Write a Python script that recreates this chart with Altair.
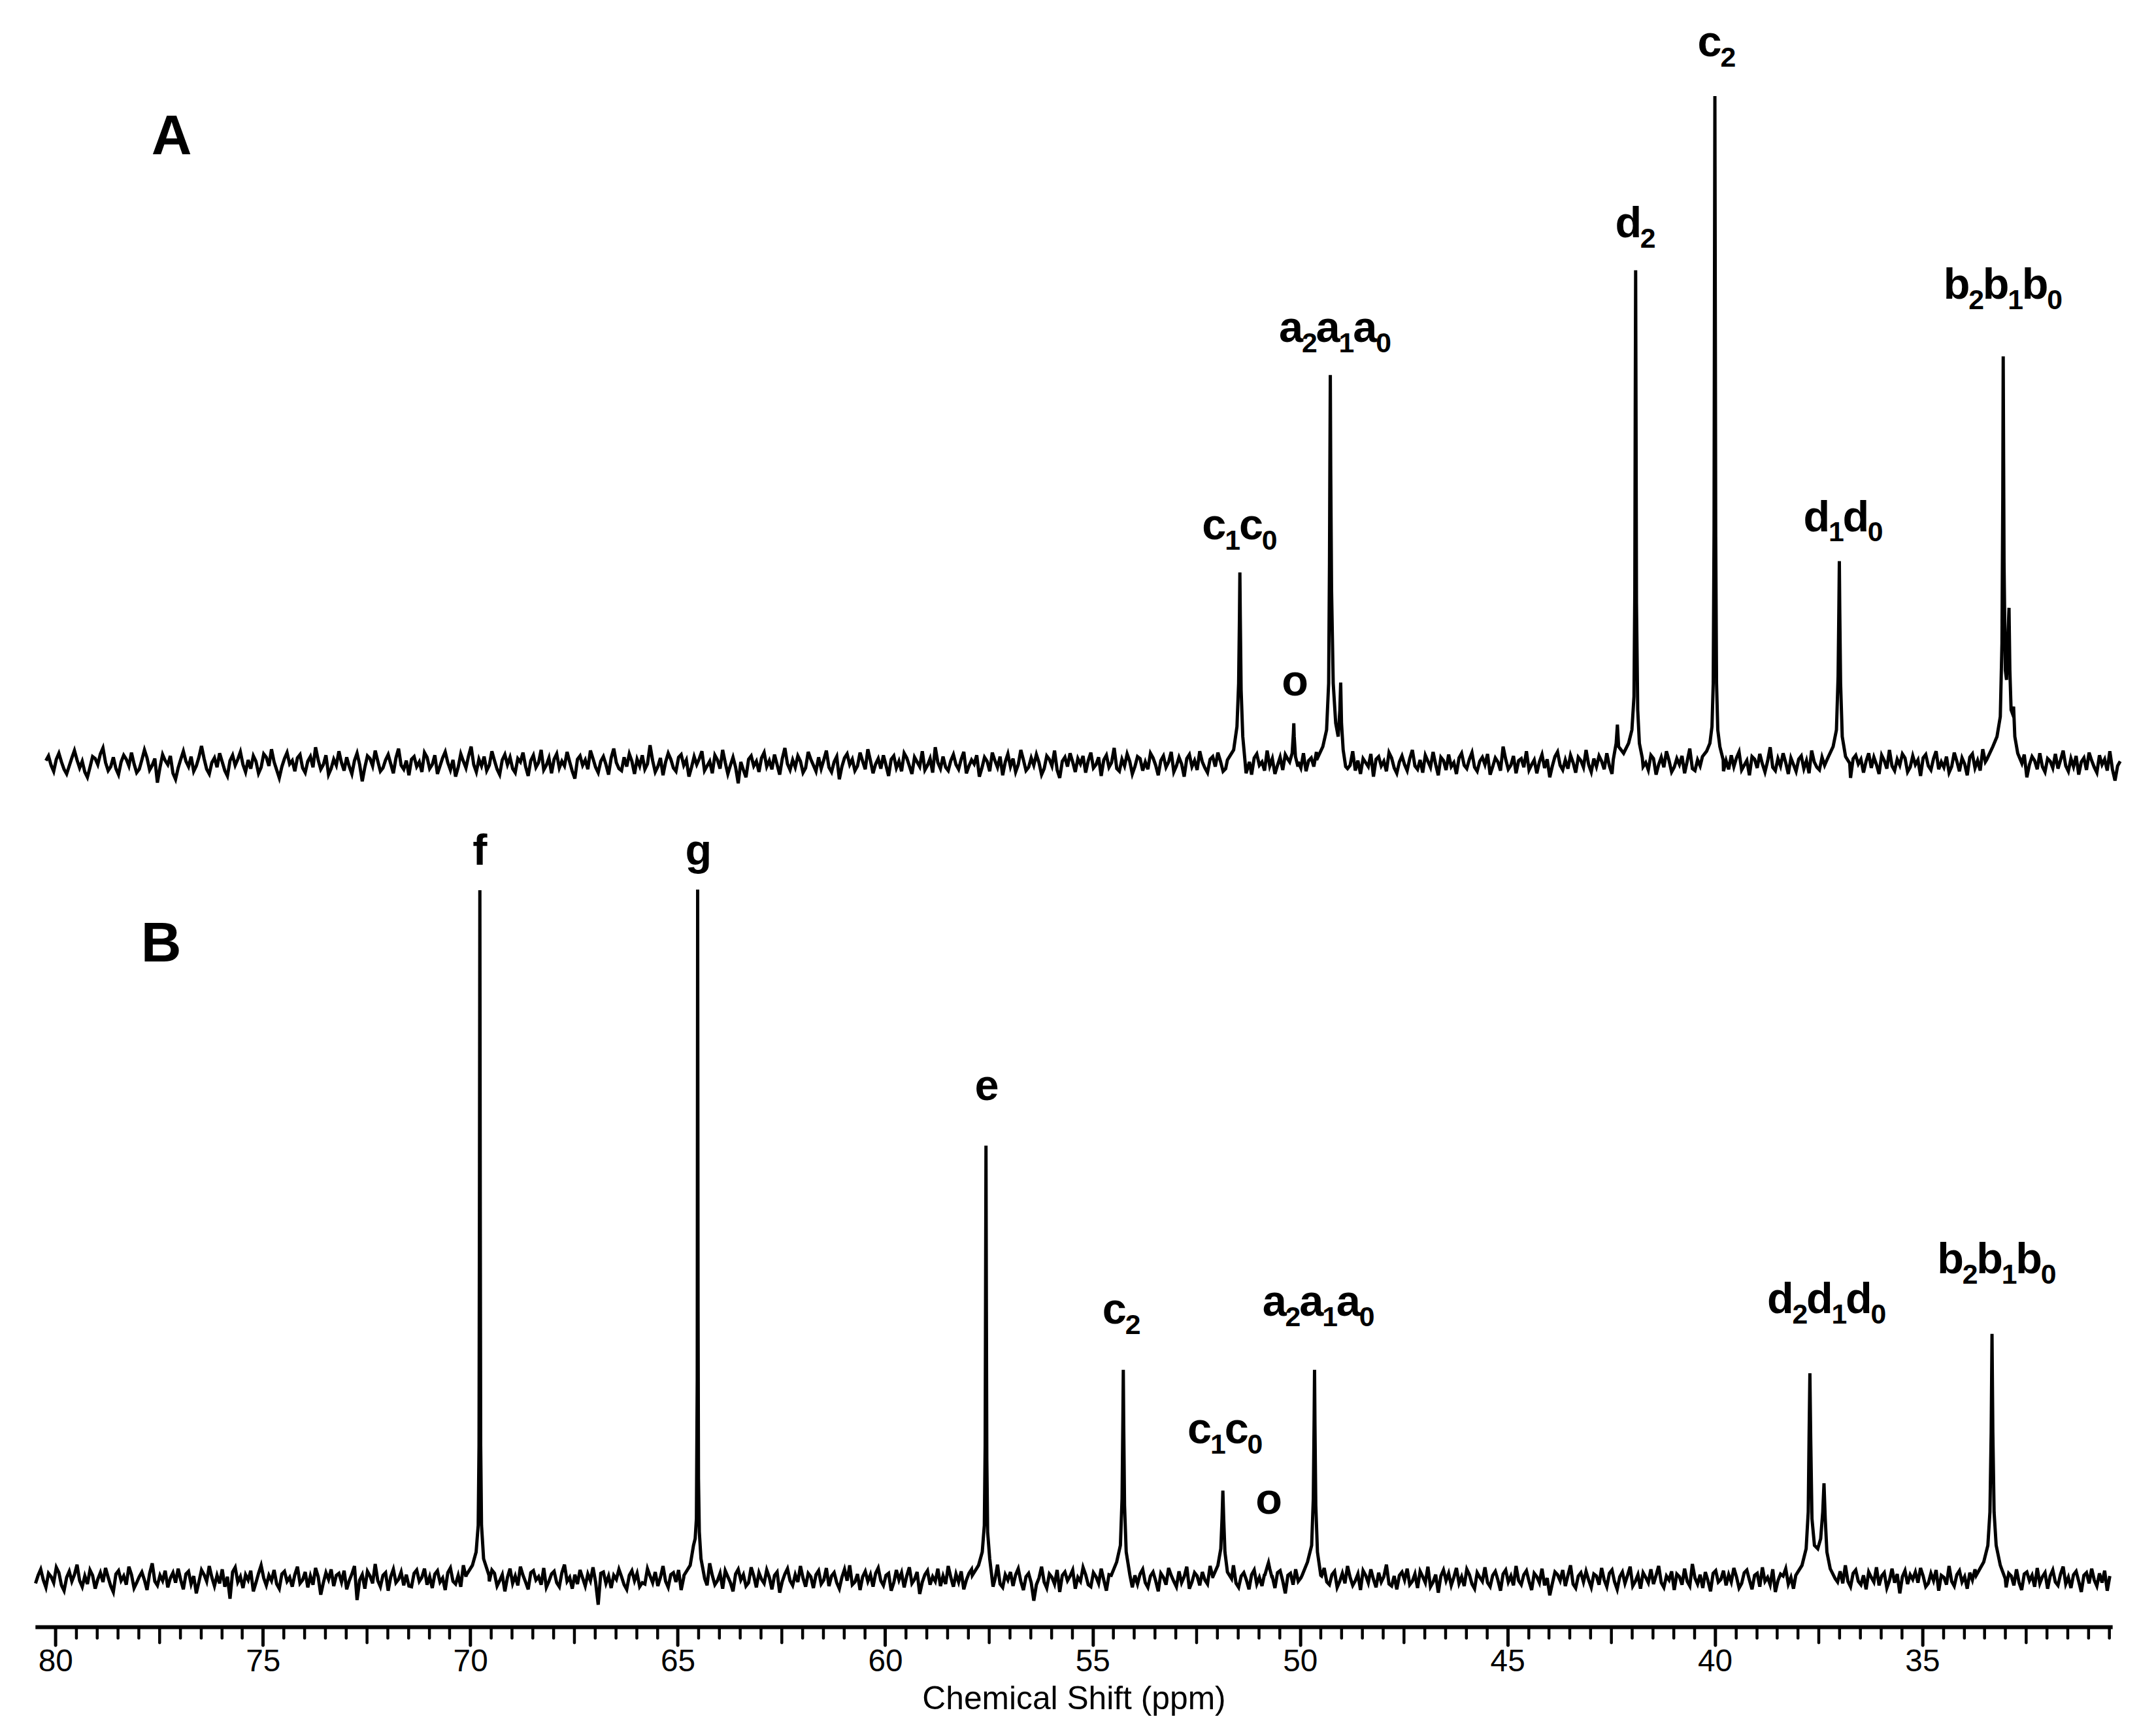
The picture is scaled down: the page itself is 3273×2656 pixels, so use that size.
import altair as alt
import numpy as np
import pandas as pd

# ---------------- data ----------------
# baseline noise samples (intensity, a.u.) on a 0.0625 ppm grid
GRID_STEP = 0.0625
GRID_START_A = 80.23
GRID_START_B = 80.48

NOISE_A = [
 0.4,1.1,-0.3,-1.2,0.6,1.5,0.2,-0.9,-1.6,-0.4,0.8,1.9,0.5,-0.7,0.3,-1.3,-2.1,-0.6,1.0,0.7,-0.2,1.4,2.3,0.1,-1.1,
 -0.5,0.9,-0.8,-1.7,0.2,1.2,0.6,-0.4,1.6,-0.1,-1.4,-0.9,0.5,2.0,0.8,-1.0,-0.3,0.7,-2.9,-0.6,1.3,0.4,-0.2,1.1,-1.5,
 -2.4,-0.7,0.6,1.8,0.3,-0.5,1.0,-1.2,-0.4,0.9,2.6,0.7,-0.9,-1.6,0.1,0.8,-0.6,1.5,0.2,-1.1,-1.9,0.4,1.2,-0.3,0.6,
 1.7,-0.2,-1.3,0.5,-0.8,1.1,0.3,-1.5,-0.6,1.4,0.9,-0.4,2.1,0.2,-1.0,-2.2,-0.5,0.7,1.6,-0.1,0.4,-1.2,0.8,1.3,-0.7,
 -1.4,0.3,1.0,-0.6,2.4,0.5,-0.9,-0.2,1.2,-1.7,-0.8,0.6,-0.3,1.8,0.1,-1.1,0.9,-0.5,-1.6,0.4,1.5,-0.2,-2.7,-0.6,1.1,
 0.7,-0.4,1.9,0.3,-1.2,-0.7,0.5,1.3,-0.1,-1.5,0.8,2.2,-0.3,-0.9,0.4,-1.8,0.6,1.0,-0.5,0.2,-1.3,1.6,0.9,-0.8,-0.2,
 1.2,-1.6,-0.4,0.8,1.7,0.1,-1.0,0.5,-2.0,-0.6,1.4,0.3,-0.7,1.1,2.5,-0.2,-1.3,0.6,-0.4,1.0,-1.1,-0.3,1.8,0.4,-0.9,
 -1.7,0.5,1.3,-0.2,0.9,-0.8,-1.4,0.7,0.2,1.6,-0.5,-1.9,0.4,1.2,-0.6,0.1,2.0,-1.0,-0.3,0.8,-1.5,0.6,1.4,-0.7,0.3,
 -0.4,1.7,0.2,-1.2,-2.3,0.6,1.1,-0.3,0.5,-0.9,1.9,0.7,-0.6,-1.4,0.3,1.0,-0.2,-1.7,0.8,2.2,0.1,-0.8,-1.1,0.9,-0.5,
 1.4,0.3,-1.6,0.6,-0.4,1.2,-0.9,-0.1,2.7,0.4,-1.3,-0.5,0.8,-1.8,0.2,1.5,0.6,-0.7,-1.2,0.9,1.3,-0.3,0.5,-2.0,-0.6,
 1.0,-0.2,0.7,1.8,-1.1,-0.4,0.3,-1.5,1.2,0.5,-0.8,2.0,0.1,-1.6,-0.3,0.9,-0.6,-3.0,0.2,-1.0,-2.1,0.6,1.1,-0.4,0.3,
 -1.3,0.8,1.6,-0.5,0.4,-0.9,1.3,-0.2,-1.7,0.7,2.3,-0.1,-1.0,0.5,-0.6,1.1,0.3,-1.4,-0.7,1.7,0.6,-0.3,-1.2,0.9,-0.8,
 0.5,1.9,-0.6,-1.3,0.2,1.0,-2.4,-0.5,0.8,1.4,-0.2,0.6,-1.1,-0.4,1.6,0.3,-0.9,2.1,0.4,-1.5,-0.1,0.7,-0.8,1.2,-0.3,
 -1.9,0.6,1.1,-0.7,0.3,-1.2,1.5,0.8,-0.4,-1.6,0.9,0.2,-0.5,1.8,-1.0,-0.3,0.7,-1.4,2.4,0.1,-0.8,1.0,-0.6,-1.1,0.4,
 1.3,-0.2,-0.9,0.6,1.7,-1.5,-0.4,0.5,-0.1,1.2,-2.0,-0.7,0.9,0.3,-1.2,1.6,0.4,-0.6,1.0,-1.8,0.2,1.4,-0.5,0.7,-1.3,
 -0.2,2.0,0.5,-1.1,-0.6,0.8,-0.3,1.3,0.1,-1.7,-0.8,1.1,0.6,-0.4,1.9,-1.0,-2.2,0.3,0.9,-0.5,1.5,0.2,-1.3,0.7,-0.1,
 1.1,-1.4,0.4,1.6,-0.7,-0.2,0.9,-1.9,0.5,1.2,-0.6,0.1,2.3,-0.8,-1.2,0.6,-0.4,1.4,0.3,-1.6,-0.5,1.0,0.7,-1.1,0.2,
 -0.9,1.5,0.8,-0.3,-1.8,0.4,1.1,-0.6,0.2,1.7,-1.3,-0.4,0.9,-0.1,-2.0,0.7,1.3,-0.5,0.4,-1.0,1.8,0.2,-0.7,-1.4,0.6,
 1.0,-0.5,1.6,0.3,-1.2,-0.8,0.6,2.1,-0.2,-1.5,0.5,-0.9,1.2,0.4,-0.6,-1.7,0.8,1.4,-0.3,0.2,-1.1,1.9,-0.4,0.7,-1.6,
 -0.3,0.9,-1.0,1.3,0.6,-2.3,-0.4,1.0,0.2,-0.7,1.5,-1.2,0.4,0.8,-0.5,1.7,-0.2,-1.4,0.6,1.1,-0.9,-0.1,2.2,-0.6,-1.3,
 0.5,1.2,-0.8,-0.3,1.8,-1.1,0.4,-1.6,0.7,0.1,-0.5,1.4,-2.0,0.6,1.0,-0.4,0.3,-1.2,1.6,0.8,-0.7,-1.5,0.2,1.1,-0.2,
 -1.1,0.7,2.0,-0.4,-0.9,0.5,-1.4,1.2,0.3,-0.6,1.7,-0.2,-1.8,0.9,0.4,-1.0,1.3,-0.5,0.1,-1.6,0.8,1.5,-0.3,-0.8,0.6,
 1.6,-0.6,-1.2,0.3,0.9,-0.2,1.4,-1.7,-0.5,0.8,0.2,-1.1,2.5,0.6,-0.9,-0.3,1.1,-1.5,0.4,0.7,-0.6,1.8,-1.0,-0.2,0.5,
 -1.5,0.2,1.3,-0.7,0.6,-2.1,-0.4,1.0,1.7,-0.3,-1.0,0.5,-0.8,1.2,0.1,-1.4,0.9,0.4,-0.6,2.0,-0.2,-1.3,0.7,-0.5,1.1,
 0.3,-0.9,1.5,-0.4,-1.6,0.8,0.2,-0.7,1.9,0.5,-1.2,-0.3,1.0,-1.9,0.6,1.4,-0.5,0.1,-1.0,1.2,0.7,-1.7,-0.2,0.9,-0.6,
 1.8,0.4,-1.3,-0.6,0.7,-0.2,1.1,-1.5,0.3,2.2,-0.8,-1.1,0.5,-0.4,1.6,0.2,-2.0,-0.7,0.9,1.3,-0.3,0.6,-1.2,0.4,-0.9,
 1.2,-0.5,0.8,1.7,-1.0,-0.3,0.4,-1.8,1.0,0.6,-0.7,1.4,-0.1,-1.3,0.3,2.4,-0.6,-1.1,0.7,-0.4,1.5,0.1,-1.6,0.8,-0.2,
 -1.2,0.6,1.1,-0.8,0.4,-1.5,1.9,0.2,-0.6,-1.0,0.9,-0.3,1.3,0.5,-1.7,-0.4,1.0,-0.9,0.3,1.6,-0.5,-2.2,0.7,1.2,-0.1,
 0.6,-1.4,0.3,1.5,-0.7,0.9,-0.2,-1.6,1.2,0.4,-0.8,2.0,-0.4,-1.1,0.6,-0.3,1.4,0.8,-1.3,-0.6,1.1,-0.2,0.5,-1.9,0.8,
 1.3,-0.4,-1.0,0.7,1.8,-0.9,0.2,-0.6,1.0,-1.4,-0.5,1.6,0.3,-1.2,0.8,-0.1,-1.8,0.9,1.4,-0.7,0.4,-1.1,2.1,0.2,-0.8,
 -1.6,0.5,1.2,-0.3,0.8,-1.0,-0.4,1.7,0.1,-1.5,0.6,0.9,-0.6,1.3,-2.1,-0.2,1.0,0.4,-0.9,1.5,-0.5,-1.3,0.7,0.3,-0.7,
 1.4,-0.8,0.5,1.9,-0.4,-1.2,0.7,-0.5,1.1,-1.7,0.2,0.8,-1.0,1.6,0.4,-0.6,-1.4,1.2,-0.2,0.6,-1.1,1.8,-0.9,-2.6,-0.4,
 0.3]

NOISE_B = [
 -0.7,0.5,1.4,-0.2,-1.3,0.8,0.3,-0.6,1.7,0.9,-1.0,-1.8,0.2,1.1,-0.4,0.6,2.1,-0.3,-1.2,0.4,-0.8,1.3,0.5,-1.5,-0.1,
 0.9,-0.5,1.6,0.2,-1.1,-2.0,0.7,1.2,-0.3,0.4,-0.9,1.8,0.6,-1.4,-0.6,0.3,1.0,-0.2,-1.7,0.8,2.3,-0.4,-1.0,0.5,-0.3,
 1.2,-1.3,0.1,0.9,-0.6,1.5,-0.2,-1.6,0.7,1.1,-0.8,0.4,-2.2,-0.5,1.3,0.6,-0.4,1.9,0.2,-1.1,0.5,-0.7,1.4,-1.2,0.3,
 -3.0,1.0,1.7,-0.5,0.3,-1.4,0.6,-0.2,1.2,-1.9,-0.6,0.8,2.0,0.1,-1.0,0.5,-0.3,1.3,-0.8,-1.5,0.7,1.1,-0.4,0.2,-1.2,
 0.6,1.8,-0.7,-0.2,1.0,-1.3,0.4,-0.9,1.6,0.3,-2.4,-0.6,0.9,-0.1,1.4,-1.1,0.5,0.8,-0.5,1.2,-1.6,-0.3,0.7,1.9,-3.2,
 -0.2,0.6,-1.5,1.1,0.4,-0.7,2.2,-0.3,-1.2,0.5,0.9,-1.8,0.3,1.4,-0.6,-0.1,1.0,-1.0,0.6,-1.1,-1.2,0.8,1.3,-0.4,0.2,
 1.5,-0.9,0.3,-1.4,0.7,1.2,-0.5,0.1,-1.7,0.9,1.6,-0.4,-0.8,0.5,-1.2,2.0,0.3,-0.6,-1.3,0.8,0.4,-0.2,1.1,-1.5,0.6,
 -0.4,1.3,0.8,-1.1,-0.3,0.6,-1.9,0.2,1.5,-0.7,0.4,-1.0,1.8,0.5,-0.5,-1.6,0.9,1.2,-0.2,0.3,-0.9,1.6,-1.3,-0.4,0.7,
 1.1,-0.6,-1.2,0.9,2.1,-0.4,0.2,-1.5,0.6,-0.8,1.3,0.1,-1.1,0.7,-0.3,1.7,-0.5,-3.9,0.8,1.0,-0.7,0.4,-1.4,0.5,-0.1,
 1.4,0.3,-0.9,-1.6,0.5,1.2,-0.3,0.8,-1.2,-0.6,-0.8,1.5,0.4,-0.6,1.0,-1.1,0.2,1.9,-0.4,-1.3,0.6,0.9,-0.5,1.3,-1.7,
 0.2,-0.5,1.1,0.6,-1.4,0.4,-0.8,1.6,-0.2,-1.0,2.3,0.5,-0.9,-0.3,0.8,-1.5,1.2,0.3,-0.6,-1.9,0.7,1.4,-0.2,0.6,-1.1,
 -0.6,1.7,0.4,-1.3,0.9,-0.1,-0.7,1.3,0.2,-1.6,0.5,1.0,-2.1,-0.4,0.7,1.5,-0.3,-1.0,0.6,-0.5,1.9,0.1,-1.2,0.8,0.3,
 -1.4,0.6,1.2,-0.8,-0.2,1.6,-1.1,0.4,0.9,-0.6,-1.5,0.2,1.4,-0.3,2.0,-0.9,-0.5,0.7,-1.7,0.3,1.1,-0.4,0.6,-1.2,0.8,
 1.6,-0.3,-1.0,0.5,0.8,-1.8,-0.6,1.3,-0.2,0.9,-1.3,0.4,1.7,-0.7,-0.1,1.0,-2.3,-0.5,0.6,1.2,-0.9,0.3,-0.4,1.5,-1.1,
 0.4,-0.8,1.9,0.2,-1.2,0.7,-0.5,1.1,-1.6,-0.2,0.8,1.4,-0.6,-1.0,0.5,-0.3,1.6,0.9,-1.4,-0.7,0.3,2.1,-0.8,-1.3,0.6,
 -0.2,1.0,-1.1,0.6,1.5,-0.4,-1.7,0.3,0.8,-0.6,-3.3,-0.9,0.1,1.8,-0.5,-1.4,0.7,0.2,-0.8,1.3,-2.0,0.5,1.0,-0.3,0.4,
 1.3,-1.5,0.2,-0.4,1.7,0.6,-0.9,-1.2,0.9,0.3,-0.7,1.5,-0.2,-1.8,0.6,1.1,-0.4,0.8,-1.0,2.2,-0.6,-0.2,1.0,-1.3,0.5,
 -0.8,0.7,1.4,-0.6,-1.3,0.4,1.0,-0.3,-1.9,0.8,0.2,-0.9,1.6,0.5,-0.4,-1.2,1.1,-0.6,0.3,1.8,-1.5,-0.5,0.9,0.4,-1.0,
 1.0,-0.2,-0.8,1.9,0.3,-1.6,0.6,-0.4,1.2,-1.0,-0.5,0.8,2.0,-0.7,-1.3,0.4,0.9,-0.2,-1.6,0.6,1.3,-0.8,0.2,-1.1,0.7,
 1.5,-0.6,0.3,-1.4,0.9,1.2,-0.3,-2.2,0.5,0.8,-0.9,1.4,-0.4,0.1,-1.2,1.7,0.6,-0.7,-0.2,1.0,-1.5,0.4,1.6,-0.5,-0.9,
 0.6,1.1,-1.3,-0.4,0.8,-0.7,1.9,0.2,-1.0,-0.3,0.7,-1.7,1.2,0.5,-0.6,1.4,-0.1,-1.3,0.9,-0.5,0.3,2.1,-0.8,-1.1,0.4,
 -1.6,0.5,1.0,-0.2,1.5,-0.9,-0.4,0.7,-1.4,1.1,0.3,-0.6,1.8,-1.2,-0.5,0.6,-2.1,0.4,1.3,-0.3,0.8,-1.0,0.2,1.6,-0.7,
 0.3,-1.1,1.4,0.6,-0.8,-1.5,0.9,0.2,-0.4,1.7,-0.6,-1.2,0.5,1.1,-0.2,-1.8,0.7,1.3,-0.5,0.4,-1.0,1.9,-0.3,-0.9,0.6,
 1.2,-0.4,-1.7,0.8,0.3,-0.6,1.5,-1.0,0.1,-2.5,-0.7,1.0,0.6,-0.3,1.3,-1.1,0.5,2.0,-0.8,-1.4,0.4,0.9,-0.5,1.1,-0.2,
 -1.3,0.7,0.4,-0.9,1.6,-0.2,-1.2,0.8,1.3,-0.5,-1.6,0.3,1.0,-0.7,0.5,1.8,-1.1,-0.4,0.6,-1.5,0.9,0.2,-0.6,1.4,-0.8,
 0.5,1.9,-0.6,-1.3,0.4,-0.2,1.1,-1.7,0.7,0.3,-0.9,1.5,-0.4,-1.1,2.2,0.1,-0.8,0.6,-1.4,1.0,-0.3,-1.9,0.8,1.2,-0.5,
 -0.1,1.2,-1.0,0.6,-0.5,1.6,0.3,-1.4,-0.7,0.9,1.3,-0.2,-1.6,0.5,0.8,-1.2,1.7,-0.4,0.2,-0.9,1.4,-2.0,-0.3,0.7,0.4,
 1.5,-0.8,0.2,-1.5,1.0,0.6,-0.3,1.8,-1.1,-0.6,0.4,1.2,-0.9,0.3,-1.7,0.9,-0.2,1.4,0.5,-1.3,-0.5,1.1,-0.7,2.0,-0.4,
 -1.2,0.8,1.3,-0.4,-0.9,0.5,-1.6,1.0,0.2,-0.5,1.7,-1.0,0.4,0.9,-1.4,-0.3,1.5,-0.6,0.7,-2.2,0.3,1.2,-0.8,0.6,-0.1,
 1.0,-0.6,1.6,0.4,-1.2,-0.7,0.8,-0.3,1.3,-1.8,0.5,0.2,-0.9,1.9,-0.4,-1.1,0.6,1.2,-0.5,0.3,-1.5,0.9,-0.2,1.4,-1.0,
 -0.4,1.5,-0.8,0.2,1.1,-1.4,0.6,-0.5,2.1,-0.2,-1.3,0.8,0.4,-1.0,1.4,-0.6,-1.7,0.7,1.0,-0.3,0.5,-1.2,1.6,-0.7,0.3,
 0.9,-1.5,0.4,1.3,-0.5,-1.0,0.7,1.8,-0.8,0.2,-1.4,0.6,1.1,-0.4,-2.0,0.5,0.9,-0.7,1.5,-0.2,-1.1,0.8,-0.6,1.2,-1.8,
 0.4]

# peak profiles: (ppm, intensity)
PEAKS_A = [
    [(51.75,0.5),(51.6,2.0),(51.52,5.5),(51.48,12),(51.46,22),(51.45,28.6),(51.44,22),(51.42,11),(51.38,4),(51.3,-1.5),(51.22,0.2)],
    [(50.25,0.2),(50.19,1.5),(50.16,4.5),(50.15,6.0),(50.14,4),(50.11,1),(50.05,-0.5)],
    [(49.6,0.5),(49.45,2.5),(49.36,5),(49.31,12),(49.29,30),(49.28,45),(49.27,58.2),(49.26,44),(49.24,26),(49.2,12),(49.14,6),
     (49.08,4),(49.04,8),(49.02,12.1),(49.0,6),(48.96,2),(48.9,-0.5)],
    [(42.45,0.5),(42.38,3),(42.35,5.8),(42.32,2.5),(42.2,1.5),(42.08,3),(42.0,5),(41.95,10),(41.93,26),(41.92,52),(41.91,73.9),
     (41.9,50),(41.89,24),(41.86,8),(41.82,3),(41.75,0.8)],
    [(40.3,1.0),(40.2,1.8),(40.12,3.0),(40.07,5.5),(40.04,12),(40.02,35),(40.01,70),(40.0,100),(39.99,68),(39.98,34),
     (39.96,12),(39.93,5),(39.88,2.5),(39.8,0.5)],
    [(37.3,0.5),(37.15,2.5),(37.07,5),(37.03,13),(37.01,24),(37.0,30.3),(36.99,23),(36.97,12),(36.93,4),(36.85,1),(36.75,0)],
    [(33.45,0.5),(33.3,2.5),(33.2,4),(33.12,7),(33.08,18),(33.06,40),(33.05,61),(33.04,45),(33.03,30),(33.0,14),(32.97,12.5),
     (32.93,20),(32.91,23.3),(32.89,14),(32.86,8),(32.83,7.5),(32.8,8.5),(32.77,4),(32.7,1.5),(32.6,0)],
]

PEAKS_B = [
    [(70.1,0.5),(69.95,2),(69.86,4),(69.81,8),(69.79,20),(69.78,55),(69.77,103.2),(69.76,55),(69.75,20),(69.73,8),(69.68,3),(69.55,0.5)],
    [(64.85,0.5),(64.7,2),(64.62,5),(64.58,6),(64.55,9),(64.53,30),(64.52,103.3),(64.51,40),(64.5,15),(64.48,7),(64.44,3),(64.35,0)],
    [(57.9,0.5),(57.75,2),(57.66,4),(57.61,8),(57.59,20),(57.58,42),(57.57,64.9),(57.56,40),(57.55,18),(57.53,7),(57.48,3),(57.4,-1.2),(57.35,0)],
    [(54.55,0.5),(54.42,2.5),(54.33,5),(54.29,12),(54.27,24),(54.26,31.3),(54.25,23),(54.23,11),(54.19,4),(54.1,0.5)],
    [(52.1,0.3),(51.98,2),(51.91,4.5),(51.88,9),(51.86,13.2),(51.84,9),(51.81,4),(51.75,1),(51.65,0)],
    [(50.85,0.5),(50.78,2.0),(50.76,2.4),(50.73,1.5),(50.68,0.3)],
    [(49.95,0.5),(49.82,2.5),(49.72,5),(49.68,12),(49.66,24),(49.65,31.3),(49.64,23),(49.62,11),(49.58,4),(49.5,0.5)],
    [(38.05,0.5),(37.9,2),(37.8,4.5),(37.75,10),(37.73,21),(37.71,30.8),(37.69,21),(37.66,9),(37.6,5),(37.52,4.5),(37.45,6),
     (37.4,10),(37.37,14.3),(37.34,9),(37.3,4),(37.22,1.5),(37.1,0)],
    [(33.7,0.5),(33.52,2.5),(33.42,5),(33.37,10),(33.34,22),(33.32,36.7),(33.3,22),(33.27,10),(33.22,5),(33.12,2),(33.0,0)],
]

# peak labels: text (digits are subscripts), ppm, intensity of text baseline
LABELS_A_TEXT = ["c1c0", "o", "a2a1a0", "d2", "c2", "d1d0", "b2b1b0"]
LABELS_A_PPM = [51.45, 50.12, 49.15, 41.91, 39.95, 36.9, 33.05]
LABELS_A_I = [33.6, 10.2, 63.2, 78.8, 106.0, 34.8, 69.6]

LABELS_B_TEXT = ["f", "g", "e", "c2", "c1c0", "o", "a2a1a0", "d2d1d0", "b2b1b0"]
LABELS_B_PPM = [69.77, 64.5, 57.55, 54.3, 51.8, 50.75, 49.55, 37.3, 33.2]
LABELS_B_I = [107.0, 107.0, 71.7, 38.2, 20.3, 9.7, 39.4, 39.8, 45.8]

PANEL_TEXT = ["A", "B"]
PANEL_PPM = [77.2, 77.45]
PANEL_I = [91.3, 92.5]

MAJOR_TICKS = [80, 75, 70, 65, 60, 55, 50, 45, 40, 35]
MID_TICKS = [77.5, 72.5, 67.5, 62.5, 57.5, 52.5, 47.5, 42.5, 37.5, 32.5]
MINOR_TICKS = [v / 2 for v in range(160, 60, -1) if (v % 5) != 0]

# ---------------- layout ----------------
PPM_LEFT, PPM_RIGHT = 80.49, 30.42
W = 3195
HA, HB = 1232, 1255
DOM_A = [-7.12, 112.96]
DOM_B = [-7.21, 115.1]
FONT = "Liberation Sans"
TIGHT = 0.93
M_SIZE, S_SIZE = 67, 43
PPX = W / (PPM_LEFT - PPM_RIGHT)

xs = alt.Scale(domain=[PPM_LEFT, PPM_RIGHT], nice=False, zero=False)


def trace(noise, peaks, start):
    grid = start - GRID_STEP * np.arange(len(noise))
    wins = [(min(p[0] for p in pk), max(p[0] for p in pk)) for pk in peaks]
    pts = [(float(x), y) for x, y in zip(grid, noise)
           if not any(lo <= x <= hi for lo, hi in wins)]
    for pk in peaks:
        pts.extend(pk)
    pts.sort(key=lambda t: -t[0])
    df = pd.DataFrame(pts, columns=["ppm", "I"])
    df["k"] = range(len(df))
    return df


GW = {"a": 0.556, "b": 0.611, "c": 0.556, "d": 0.611, "e": 0.556,
      "f": 0.333, "g": 0.611, "o": 0.611}


def glyphs(texts, ppms, ints):
    rows = []
    for text, ppm, h in zip(texts, ppms, ints):
        parts, i = [], 0
        while i < len(text):
            ch, sub = text[i], ""
            if i + 1 < len(text) and text[i + 1].isdigit():
                sub = text[i + 1]
                i += 2
            else:
                i += 1
            parts.append((ch, sub))
        wsub = 0.556 * S_SIZE * TIGHT
        total = sum(GW[c] * M_SIZE * TIGHT + (wsub if s else 0) for c, s in parts)
        x = -total / 2
        for c, s in parts:
            wm = GW[c] * M_SIZE * TIGHT
            rows.append(dict(t=c, kind="main", ppm=ppm - (x + wm / 2) / PPX, I=h))
            x += wm
            if s:
                rows.append(dict(t=s, kind="sub", ppm=ppm - (x + wsub / 2) / PPX, I=h))
                x += wsub
    return pd.DataFrame(rows)


def panel(noise, peaks, start, ltext, lppm, lint, ptext, pppm, pint, dom, height, bottom):
    ys = alt.Scale(domain=dom, nice=False, zero=False)
    df = trace(noise, peaks, start)
    if bottom:
        xaxis = alt.Axis(values=MAJOR_TICKS, format="d", tickSize=28, tickWidth=5,
                         tickColor="black", tickCap="round", domainColor="black",
                         domainWidth=6, labelFont=FONT, labelFontSize=48,
                         labelColor="black", labelPadding=2, labelFlush=False,
                         labelOverlap=False, title="Chemical Shift (ppm)",
                         titleFont=FONT, titleFontSize=50, titleFontWeight="normal",
                         titleColor="black", titlePadding=8, grid=False,
                         orient="bottom")
    else:
        xaxis = None
    line = alt.Chart(df).mark_line(color="black", strokeWidth=5).encode(
        x=alt.X("ppm:Q", scale=xs, axis=xaxis),
        y=alt.Y("I:Q", scale=ys, axis=None),
        order="k:Q",
    )
    g = glyphs(ltext, lppm, lint)
    base = alt.Chart(g).encode(
        x=alt.X("ppm:Q", scale=xs, axis=None),
        y=alt.Y("I:Q", scale=ys, axis=None),
        text="t:N",
    )
    main = base.transform_filter(alt.datum.kind == "main").mark_text(
        font=FONT, fontWeight="bold", fontSize=M_SIZE, align="center",
        baseline="alphabetic", color="black")
    sub = base.transform_filter(alt.datum.kind == "sub").mark_text(
        font=FONT, fontWeight="bold", fontSize=S_SIZE, align="center",
        baseline="alphabetic", color="black", dy=16)
    pl = alt.Chart(pd.DataFrame({"t": [ptext], "ppm": [pppm], "I": [pint]})).mark_text(
        font=FONT, fontWeight="bold", fontSize=86, align="center",
        baseline="alphabetic", color="black").encode(
        x=alt.X("ppm:Q", scale=xs, axis=None),
        y=alt.Y("I:Q", scale=ys, axis=None),
        text="t:N")
    layers = [line, main, sub, pl]
    if bottom:
        def tick_layer(vals, size):
            tdf = pd.DataFrame({"ppm": vals, "I": [0.0] * len(vals)})
            return alt.Chart(tdf).mark_point(opacity=0, size=1).encode(
                x=alt.X("ppm:Q", scale=xs,
                        axis=alt.Axis(values=vals, tickSize=size, tickWidth=4.5,
                                      tickColor="black", tickCap="round", domain=False,
                                      labels=False, title="", grid=False,
                                      orient="bottom")),
                y=alt.Y("I:Q", scale=ys, axis=None))
        layers += [tick_layer(MINOR_TICKS, 17), tick_layer(MID_TICKS, 24)]
        ch = alt.layer(*layers).resolve_axis(x="independent")
    else:
        ch = alt.layer(*layers)
    return ch.properties(width=W, height=height)


top = panel(NOISE_A, PEAKS_A, GRID_START_A, LABELS_A_TEXT, LABELS_A_PPM, LABELS_A_I,
            PANEL_TEXT[0], PANEL_PPM[0], PANEL_I[0], DOM_A, HA, False)
bot = panel(NOISE_B, PEAKS_B, GRID_START_B, LABELS_B_TEXT, LABELS_B_PPM, LABELS_B_I,
            PANEL_TEXT[1], PANEL_PPM[1], PANEL_I[1], DOM_B, HB, True)

chart = alt.vconcat(top, bot, spacing=0, bounds="flush").properties(
    padding={"left": 36, "top": 0, "right": 10, "bottom": 10},
    background="white",
).configure_view(strokeWidth=0)

chart.save("out.html", embed_options={"renderer": "svg", "actions": False})
